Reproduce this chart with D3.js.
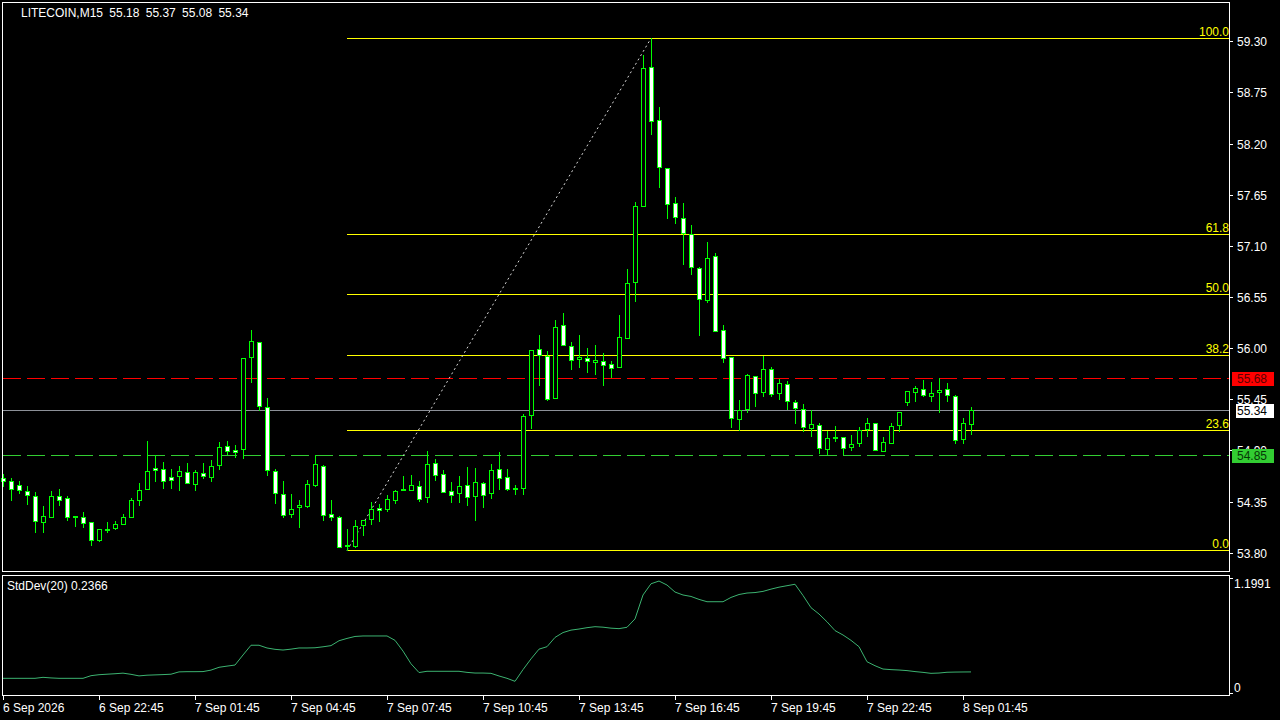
<!DOCTYPE html>
<html><head><meta charset="utf-8">
<script src="https://cdn.jsdelivr.net/npm/d3@7"></script>
<style>
html,body{margin:0;padding:0;background:#000;overflow:hidden}
svg{display:block}
text{font-family:"Liberation Sans",Arial,sans-serif;font-size:12px;white-space:pre}
</style>
</head><body>
<svg id="c" width="1280" height="720"></svg>
<script>
// ---- data (LITECOIN, M15) ----
const opens = [54.605,54.573,54.530,54.466,54.412,54.129,54.183,54.412,54.390,54.195,
54.187,54.126,53.939,54.043,54.065,54.108,54.183,54.365,54.484,54.713,
54.702,54.616,54.623,54.670,54.541,54.659,54.616,54.745,54.949,54.906,
54.917,55.905,56.066,55.364,54.681,54.433,54.215,54.290,54.305,54.527,
54.734,54.219,54.183,53.875,53.871,54.101,54.165,54.283,54.269,54.365,
54.478,54.476,54.519,54.401,54.766,54.648,54.462,54.444,54.530,54.408,
54.552,54.444,54.702,54.616,54.492,54.498,55.283,55.992,55.916,55.462,
56.249,56.024,55.884,55.895,55.848,55.863,55.831,55.798,56.106,56.711,
57.534,59.020,58.451,57.935,57.559,57.398,57.226,56.862,56.514,56.990,
56.196,55.906,55.240,55.347,55.702,55.530,55.777,55.515,55.616,55.422,
55.347,55.143,55.175,54.918,55.043,55.046,54.939,54.982,55.132,55.197,
54.896,54.978,55.175,55.419,55.526,55.562,55.483,55.530,55.562,55.487,
55.025,55.18];
const highs = [54.652,54.609,54.573,54.523,54.459,54.308,54.469,54.491,54.412,54.195,
54.244,54.136,54.058,54.126,54.147,54.222,54.390,54.555,55.006,54.849,
54.781,54.706,54.738,54.770,54.695,54.770,54.802,54.996,55.006,54.963,
55.894,56.199,56.066,55.465,54.702,54.573,54.437,54.373,54.588,54.852,
54.749,54.373,54.201,54.058,54.158,54.154,54.351,54.326,54.423,54.480,
54.630,54.641,54.573,54.899,54.809,54.691,54.562,54.630,54.727,54.716,
54.562,54.759,54.888,54.706,54.534,55.293,55.981,56.146,55.974,56.307,
56.382,56.070,56.146,56.006,56.038,55.952,55.866,56.360,56.855,57.570,
59.153,59.332,58.594,57.935,57.624,57.563,57.323,56.870,57.144,57.026,
56.249,55.906,55.444,55.723,55.702,55.920,55.802,55.669,55.648,55.444,
55.401,55.340,55.197,55.114,55.168,55.046,55.071,55.157,55.254,55.197,
55.050,55.200,55.315,55.541,55.598,55.659,55.637,55.677,55.626,55.498,
55.250,55.37];
const lows = [54.516,54.365,54.444,54.322,54.029,54.029,54.183,54.319,54.158,54.086,
54.076,53.882,53.925,54.029,54.054,54.108,54.183,54.319,54.484,54.577,
54.494,54.494,54.473,54.552,54.473,54.605,54.570,54.698,54.863,54.827,
54.817,55.633,55.332,54.641,54.333,54.183,54.183,54.075,54.290,54.516,
54.158,54.158,53.864,53.825,53.861,53.990,54.108,54.140,54.254,54.333,
54.473,54.476,54.358,54.344,54.588,54.455,54.344,54.344,54.319,54.158,
54.290,54.387,54.487,54.476,54.430,54.433,55.140,55.609,55.440,55.462,
56.035,55.780,55.802,55.748,55.727,55.609,55.695,55.798,56.106,56.504,
57.534,58.307,57.728,57.405,57.341,56.908,56.794,56.146,56.500,56.181,
55.848,55.150,55.125,55.311,55.376,55.483,55.483,55.451,55.347,55.193,
55.107,55.054,54.871,54.857,55.000,54.857,54.900,54.946,55.061,54.907,
54.896,54.978,55.107,55.387,55.430,55.483,55.430,55.311,55.430,54.982,
54.982,55.08];
const closes = [54.570,54.487,54.476,54.423,54.143,54.197,54.412,54.365,54.183,54.190,
54.122,53.939,54.058,54.058,54.111,54.187,54.369,54.476,54.681,54.688,
54.570,54.580,54.681,54.552,54.670,54.627,54.738,54.938,54.895,54.881,
55.894,56.077,55.379,54.691,54.444,54.208,54.272,54.315,54.541,54.756,
54.208,54.187,53.864,53.885,54.086,54.154,54.272,54.262,54.380,54.466,
54.482,54.530,54.380,54.756,54.638,54.455,54.423,54.523,54.401,54.562,
54.423,54.691,54.605,54.487,54.496,55.271,55.981,55.927,55.451,56.228,
56.035,55.873,55.909,55.859,55.877,55.820,55.788,56.121,56.701,57.527,
59.009,58.440,57.946,57.548,57.409,57.237,56.872,56.529,56.969,56.181,
55.895,55.250,55.336,55.712,55.515,55.777,55.508,55.626,55.433,55.358,
55.154,55.186,54.928,55.036,55.045,54.928,54.971,55.122,55.200,54.907,
54.996,55.165,55.315,55.541,55.573,55.498,55.519,55.551,55.498,55.014,
55.197,55.34];
const stdDev = [0.171,0.171,0.171,0.171,0.171,0.181,0.175,0.171,0.171,0.171,
0.171,0.198,0.208,0.213,0.218,0.224,0.212,0.196,0.203,0.206,
0.209,0.213,0.237,0.239,0.239,0.240,0.255,0.284,0.296,0.307,
0.410,0.510,0.510,0.482,0.468,0.461,0.470,0.482,0.482,0.484,
0.494,0.506,0.556,0.580,0.600,0.605,0.605,0.605,0.605,0.560,
0.450,0.320,0.230,0.243,0.243,0.243,0.243,0.243,0.232,0.225,
0.225,0.222,0.195,0.171,0.140,0.260,0.370,0.470,0.495,0.590,
0.640,0.665,0.676,0.690,0.700,0.695,0.685,0.680,0.694,0.780,
1.025,1.140,1.168,1.127,1.055,1.025,1.010,0.980,0.956,0.956,
0.956,1.000,1.030,1.045,1.050,1.062,1.085,1.105,1.120,1.135,
1.020,0.895,0.830,0.750,0.660,0.615,0.560,0.495,0.341,0.300,
0.266,0.260,0.256,0.250,0.240,0.232,0.222,0.225,0.233,0.235,
0.236,0.2366];
const timeTickBars = [0,12,24,36,48,60,72,84,96,108,120];
const timeTickLabels = ["6 Sep 2026","6 Sep 22:45","7 Sep 01:45","7 Sep 04:45","7 Sep 07:45",
  "7 Sep 10:45","7 Sep 13:45","7 Sep 16:45","7 Sep 19:45","7 Sep 22:45","8 Sep 01:45"];
const priceTicks = [53.80,54.35,54.90,55.45,56.00,56.55,57.10,57.65,58.20,58.75,59.30];
const fibLevels = [0.0,23.6,38.2,50.0,61.8,100.0];
const fibBars = [43,81];
const fibPrices = [53.825,59.332];
const hLinePrices = [55.68,55.34,54.85];
const hLineKinds = ["red","bid","green"];
const stdDevMax = 1.1991;
const headerText = "LITECOIN,M15 55.18 55.37 55.08 55.34";
const stdDevText = "StdDev(20) 0.2366";

// ---- drawing ----
const svg = d3.select("#c");
svg.append("rect").attr("width",1280).attr("height",720).attr("fill","#000");

const n = closes.length;
const x = d3.scaleLinear().domain([0, n-1]).range([3, 3 + 8*(n-1)]);
const y = d3.scaleLinear().domain([53.80, 59.30]).range([552.8, 41.3]);
const ys = d3.scaleLinear().domain([0, stdDevMax]).range([695, 578]);
const snap = v => Math.round(v) + 0.5;

const main = svg.append("g");
const lineStyles = {
  red: {stroke:"#ff0000", dash:"18,6"},
  bid: {stroke:"#8c9098", dash:null},
  green:{stroke:"#32cd32", dash:"18,6"}
};
hLinePrices.forEach((p,i)=>{
  const st = lineStyles[hLineKinds[i]];
  main.append("line").attr("x1",3).attr("x2",1229)
    .attr("y1",snap(y(p))).attr("y2",snap(y(p)))
    .attr("stroke",st.stroke).attr("stroke-width",1)
    .attr("stroke-dasharray",st.dash);
});

// fibonacci
const fibLow = fibPrices[0], fibHigh = fibPrices[1];
const fibG = main.append("g");
fibLevels.forEach(l=>{
  const p = fibLow + (fibHigh-fibLow)*l/100;
  const yy = snap(y(p));
  fibG.append("line").attr("x1",x(fibBars[0])).attr("x2",1229)
    .attr("y1",yy).attr("y2",yy).attr("stroke","#ffff00").attr("stroke-width",1);
  fibG.append("text").attr("x",1229).attr("y",yy-2.5).attr("text-anchor","end")
    .attr("fill","#ffff00").text(l.toFixed(1));
});
fibG.append("line")
  .attr("x1",x(fibBars[0])).attr("y1",y(fibPrices[0]))
  .attr("x2",x(fibBars[1])).attr("y2",y(fibPrices[1]))
  .attr("stroke","#d8d8d8").attr("stroke-width",1).attr("stroke-dasharray","2,3");

// candles
const cg = main.append("g").attr("shape-rendering","crispEdges");
d3.range(n).forEach(i=>{
  const cx = x(i);
  const o=opens[i], c=closes[i], h=highs[i], l=lows[i];
  cg.append("line").attr("x1",cx+0.5).attr("x2",cx+0.5)
    .attr("y1",Math.round(y(h))).attr("y2",Math.round(y(l))+1)
    .attr("stroke","#00ff00").attr("stroke-width",1);
  const top = Math.round(y(Math.max(o,c))), bot = Math.round(y(Math.min(o,c)));
  cg.append("rect").attr("x",cx-1.5).attr("width",4)
    .attr("y",top+0.5).attr("height",Math.max(1,bot-top))
    .attr("fill", c>=o ? "#000000" : "#ffffff")
    .attr("stroke","#00ff00").attr("stroke-width",1);
});

// frames
const frame = svg.append("g").attr("shape-rendering","crispEdges");
frame.append("rect").attr("x",2.5).attr("y",2.5).attr("width",1227).attr("height",569)
  .attr("fill","none").attr("stroke","#ffffff");
frame.append("rect").attr("x",2.5).attr("y",575.5).attr("width",1227).attr("height",120)
  .attr("fill","none").attr("stroke","#ffffff");

// price axis
const ax = svg.append("g");
priceTicks.forEach(p=>{
  const yy = snap(y(p));
  ax.append("line").attr("x1",1230).attr("x2",1233).attr("y1",yy).attr("y2",yy)
    .attr("stroke","#ffffff").attr("shape-rendering","crispEdges");
  ax.append("text").attr("x",1237).attr("y",yy).attr("dy","0.36em")
    .attr("fill","#ffffff").text(p.toFixed(2));
});
const boxStyles = {
  red:{bg:"#ff0000", fg:"#5a0000", x:1232},
  bid:{bg:"#ffffff", fg:"#000000", x:1236},
  green:{bg:"#32cd32", fg:"#063806", x:1232}
};
hLinePrices.forEach((p,i)=>{
  const st = boxStyles[hLineKinds[i]];
  const yy = Math.round(y(p));
  ax.append("rect").attr("x",st.x).attr("y",yy-6).attr("width",1274-st.x).attr("height",14)
    .attr("fill",st.bg);
  ax.append("text").attr("x",1237).attr("y",yy+0.5).attr("dy","0.36em")
    .attr("fill",st.fg).text(p.toFixed(2));
});

// time axis
timeTickBars.forEach((b,i)=>{
  const tx = x(b);
  ax.append("line").attr("x1",tx+0.5).attr("x2",tx+0.5).attr("y1",696).attr("y2",700)
    .attr("stroke","#ffffff").attr("shape-rendering","crispEdges");
  ax.append("text").attr("x",tx).attr("y",712).attr("fill","#ffffff").text(timeTickLabels[i]);
});

// header
svg.append("text").attr("x",21).attr("y",17).attr("fill","#ffffff")
  .attr("word-spacing","3px").text(headerText);

// std dev subwindow
svg.append("path").datum(stdDev)
  .attr("d", d3.line().x((d,i)=>x(i)).y(d=>ys(d)))
  .attr("fill","none").attr("stroke","#3cb371").attr("stroke-width",1);
svg.append("text").attr("x",7).attr("y",590).attr("fill","#ffffff").text(stdDevText);
ax.append("text").attr("x",1234).attr("y",587.5).attr("fill","#ffffff").text(stdDevMax.toFixed(4));
ax.append("text").attr("x",1234).attr("y",692).attr("fill","#ffffff").text("0");
[578,693].forEach(yy=>{
  ax.append("line").attr("x1",1230).attr("x2",1233).attr("y1",yy+0.5).attr("y2",yy+0.5)
    .attr("stroke","#ffffff").attr("shape-rendering","crispEdges");
});
</script>
</body></html>
